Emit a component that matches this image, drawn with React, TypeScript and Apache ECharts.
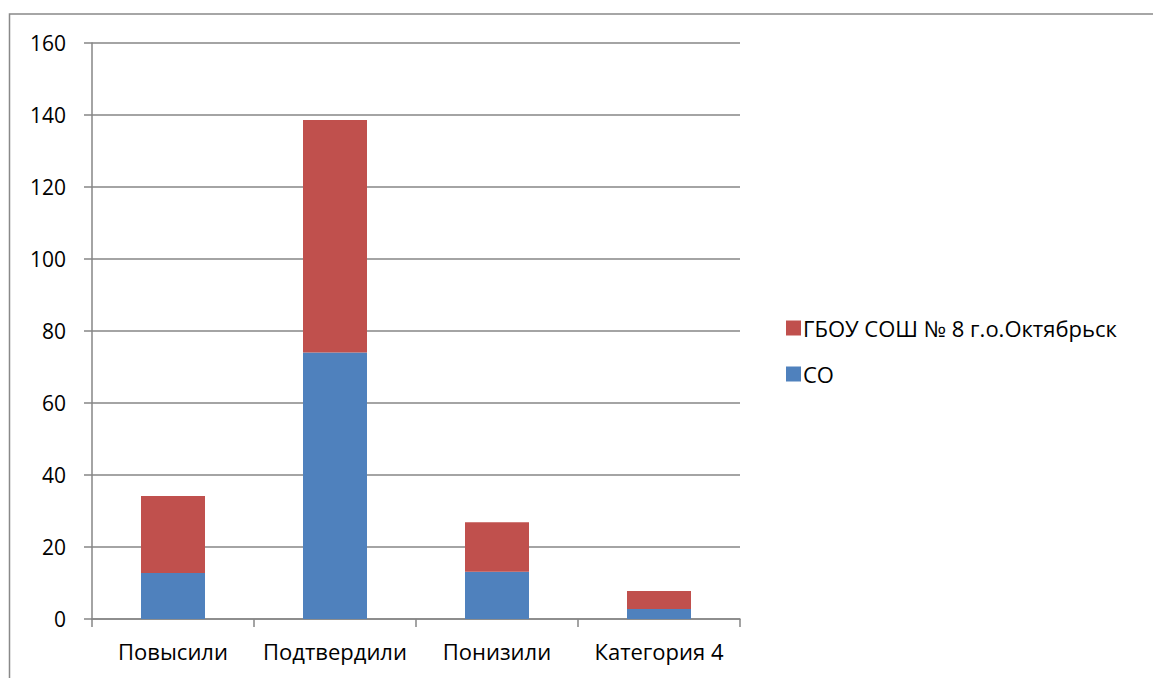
import React, { useEffect, useRef } from "react";
import * as echarts from "echarts";

const categories = ["Повысили", "Подтвердили", "Понизили", "Категория 4"];
const seriesNames = ["СО", "ГБОУ СОШ № 8 г.о.Октябрьск"];
const coValues = [12.8, 74, 13.1, 2.8];
const schoolValues = [21.4, 64.6, 13.8, 5];
const yTicks = { min: 0, max: 160, interval: 20 };

const FONT = "Open Sans";
const FS = 22;

export default function App() {
  const ref = useRef<HTMLDivElement>(null);
  useEffect(() => {
    document.body.style.margin = "0";
    const chart = echarts.init(ref.current!, null, { renderer: "svg" });
    chart.setOption({
      animation: false,
      textStyle: { fontFamily: FONT },
      graphic: [
        {
          type: "rect",
          shape: { x: 9.5, y: 14, width: 1200, height: 800 },
          style: { fill: "none", stroke: "#898989", lineWidth: 1.5 },
          silent: true,
        },
      ],
      grid: { left: 92, top: 43, right: 413, bottom: 59 },
      legend: {
        orient: "vertical",
        left: 781,
        top: 312,
        itemWidth: 15,
        itemHeight: 15,
        itemGap: 24,
        icon: "rect",
        data: [seriesNames[1], seriesNames[0]],
        textStyle: { fontSize: FS, color: "#000", fontFamily: FONT, padding: [0, 0, 0, -3] },
      },
      xAxis: {
        type: "category",
        data: categories,
        axisLine: { lineStyle: { color: "#868686", width: 1.5 } },
        axisTick: { show: true, length: 8, alignWithLabel: false, lineStyle: { color: "#868686", width: 1.5 } },
        axisLabel: { fontSize: FS, color: "#000", margin: 21, interval: 0, fontFamily: FONT },
      },
      yAxis: {
        type: "value",
        min: yTicks.min,
        max: yTicks.max,
        interval: yTicks.interval,
        axisLine: { show: true, lineStyle: { color: "#868686", width: 1.5 } },
        axisTick: { show: true, length: 8, lineStyle: { color: "#868686", width: 1.5 } },
        axisLabel: { fontSize: 21, color: "#000", margin: 26, fontFamily: FONT },
        splitLine: { lineStyle: { color: "#868686", width: 1.5 } },
      },
      series: [
        {
          name: seriesNames[0],
          type: "bar",
          stack: "total",
          data: coValues,
          barWidth: 64,
          itemStyle: { color: "#4F81BD" },
        },
        {
          name: seriesNames[1],
          type: "bar",
          stack: "total",
          data: schoolValues,
          barWidth: 64,
          itemStyle: { color: "#C0504D" },
        },
      ],
    });
    return () => chart.dispose();
  }, []);
  return <div ref={ref} style={{ width: 1153, height: 678 }} />;
}
